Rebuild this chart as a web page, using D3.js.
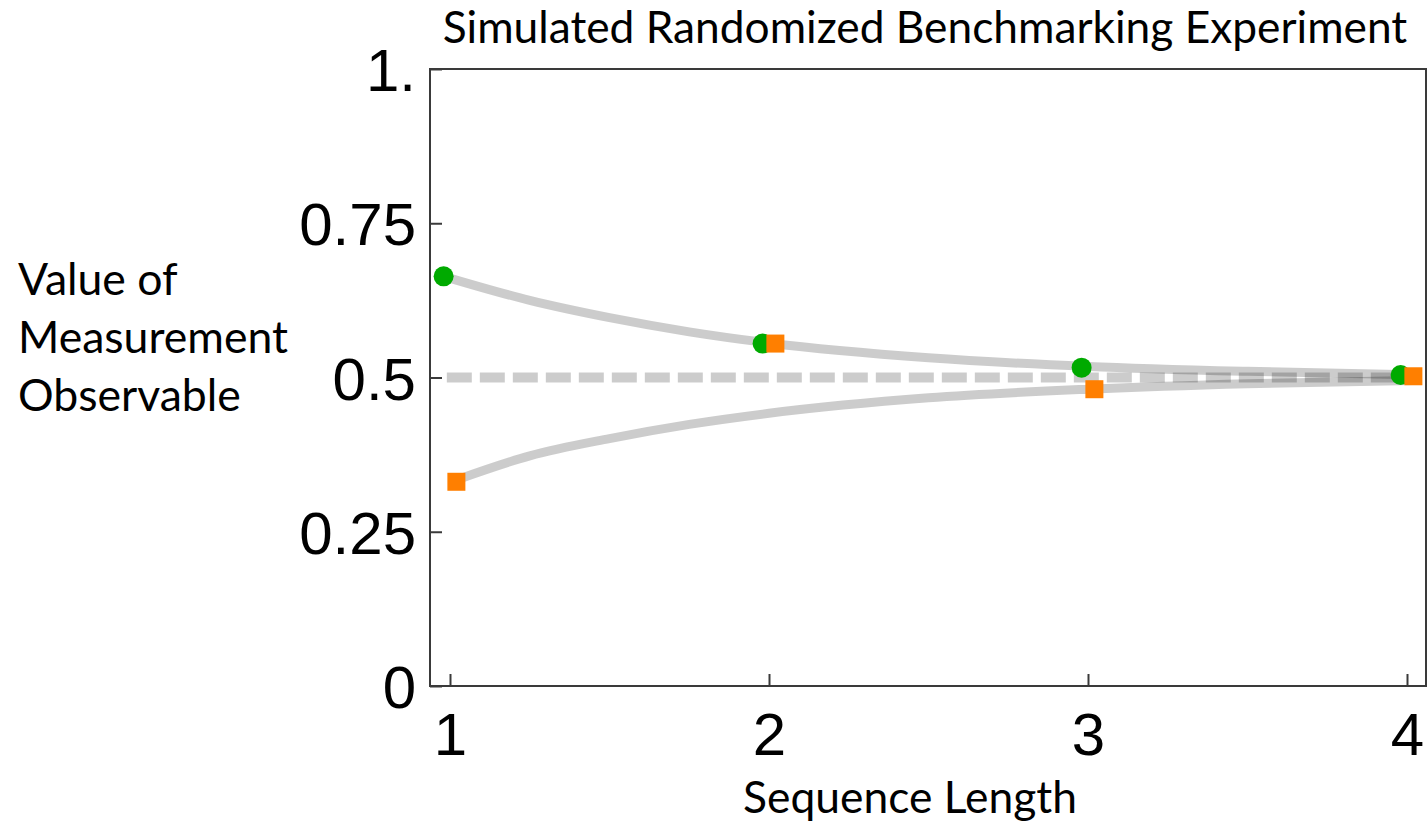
<!DOCTYPE html>
<html>
<head>
<meta charset="utf-8">
<script src="https://cdn.jsdelivr.net/npm/d3@7"></script>
<style>
  html, body { margin: 0; padding: 0; background: #fff; }
  svg { display: block; }
</style>
</head>
<body>
<svg id="chart" width="1428" height="823"></svg>
<script>
// ---- data ----
const xTicks = [1, 2, 3, 4];
const xTickLabels = ["1", "2", "3", "4"];
const yTicks = [0, 0.25, 0.5, 0.75, 1];
const yTickLabels = ["0", "0.25", "0.5", "0.75", "1."];

const greenX = [0.98, 1.98, 2.98, 3.98];
const greenY = [0.664, 0.555, 0.516, 0.504];
const orangeX = [1.02, 2.02, 3.02, 4.02];
const orangeY = [0.331, 0.555, 0.481, 0.502];

// fitted decay curves
const upperCurveX = [0.98, 1.25, 1.5, 1.75, 2.0, 2.5, 3.0, 3.5, 3.98];
const upperCurveY = [0.664, 0.625, 0.597, 0.574, 0.556, 0.532, 0.518, 0.510, 0.505];
const lowerCurveX = [1.02, 1.25, 1.5, 1.75, 2.0, 2.5, 3.0, 3.5, 4.02];
const lowerCurveY = [0.334, 0.373, 0.401, 0.424, 0.442, 0.467, 0.481, 0.490, 0.495];
const baselineX = [0.99, 4.02];
const baselineY = [0.5, 0.5];

const title = "Simulated Randomized Benchmarking Experiment";
const xLabel = "Sequence Length";
const yLabelLines = ["Value of", "Measurement", "Observable"];

// ---- layout ----
const frame = { left: 430, right: 1426, top: 69, bottom: 686 };
const svg = d3.select("#chart");

const x = d3.scaleLinear().domain([1, 4]).range([450, 1407]);
const y = d3.scaleLinear().domain([0, 1]).range([frame.bottom, frame.top]);

const textFont = "Lato, 'Open Sans', sans-serif";
const tickFont = "'Liberation Sans', Arial, sans-serif";

// curves
const line = d3.line().x(d => x(d[0])).y(d => y(d[1])).curve(d3.curveMonotoneX);
const g = svg.append("g");

g.append("path")
  .attr("d", line(upperCurveX.map((v, i) => [v, upperCurveY[i]])))
  .attr("fill", "none").attr("stroke", "#000").attr("stroke-opacity", 0.2)
  .attr("stroke-width", 9).attr("stroke-linecap", "round");
g.append("path")
  .attr("d", line(lowerCurveX.map((v, i) => [v, lowerCurveY[i]])))
  .attr("fill", "none").attr("stroke", "#000").attr("stroke-opacity", 0.2)
  .attr("stroke-width", 9).attr("stroke-linecap", "round");
g.append("path")
  .attr("d", d3.line().x(d => x(d[0])).y(d => y(d[1]))(baselineX.map((v, i) => [v, baselineY[i]])))
  .attr("fill", "none").attr("stroke", "#000").attr("stroke-opacity", 0.2)
  .attr("stroke-width", 10).attr("stroke-dasharray", "25 8");

// markers
g.selectAll("circle.green").data(greenX.map((v, i) => [v, greenY[i]])).enter()
  .append("circle").attr("class", "green")
  .attr("cx", d => x(d[0])).attr("cy", d => y(d[1])).attr("r", 10)
  .attr("fill", "#00aa00");
const sq = 18;
g.selectAll("rect.orange").data(orangeX.map((v, i) => [v, orangeY[i]])).enter()
  .append("rect").attr("class", "orange")
  .attr("x", d => x(d[0]) - sq / 2).attr("y", d => y(d[1]) - sq / 2)
  .attr("width", sq).attr("height", sq)
  .attr("fill", "#ff7f00");

// frame
svg.append("rect")
  .attr("x", frame.left).attr("y", frame.top)
  .attr("width", frame.right - frame.left).attr("height", frame.bottom - frame.top)
  .attr("fill", "none").attr("stroke", "#3a3a3a").attr("stroke-width", 2);

// axes
const xAxis = d3.axisBottom(x).tickValues(xTicks)
  .tickFormat((d, i) => xTickLabels[i]).tickSize(-12).tickPadding(26);
const gx = svg.append("g").attr("transform", `translate(0,${frame.bottom})`).call(xAxis);
gx.select(".domain").remove();
gx.selectAll(".tick line").attr("stroke", "#3a3a3a").attr("stroke-width", 2);
gx.selectAll(".tick text").attr("font-family", tickFont).attr("font-size", 60).attr("fill", "#000");

const yAxis = d3.axisLeft(y).tickValues(yTicks)
  .tickFormat((d, i) => yTickLabels[i]).tickSize(-12).tickPadding(14);
const gy = svg.append("g").attr("transform", `translate(${frame.left},0)`).call(yAxis);
gy.select(".domain").remove();
gy.selectAll(".tick line").attr("stroke", "#3a3a3a").attr("stroke-width", 2);
gy.selectAll(".tick text").attr("font-family", tickFont).attr("font-size", 60)
  .attr("fill", "#000").attr("dy", "0.36em");

// text helpers: fit font size to a target width
function fitText(sel, targetWidth, base) {
  sel.attr("font-size", base);
  const w = sel.node().getComputedTextLength();
  if (w > 0) sel.attr("font-size", base * targetWidth / w);
}

const t = svg.append("text").text(title)
  .attr("x", 925).attr("y", 43).attr("text-anchor", "middle")
  .attr("font-family", textFont).attr("fill", "#000");
fitText(t, 965, 46);

const xl = svg.append("text").text(xLabel)
  .attr("x", 910).attr("y", 813).attr("text-anchor", "middle")
  .attr("font-family", textFont).attr("fill", "#000");
fitText(xl, 334, 48);

const ylBase = [295, 353, 411];
const ylNodes = yLabelLines.map((s, i) => svg.append("text").text(s)
  .attr("x", 18).attr("y", ylBase[i])
  .attr("font-family", textFont).attr("fill", "#000"));
// scale all lines by the width of the widest line ("Measurement")
ylNodes[1].attr("font-size", 47);
const wM = ylNodes[1].node().getComputedTextLength();
const ylSize = 47 * 270 / wM;
ylNodes.forEach(n => n.attr("font-size", ylSize));
</script>
</body>
</html>
